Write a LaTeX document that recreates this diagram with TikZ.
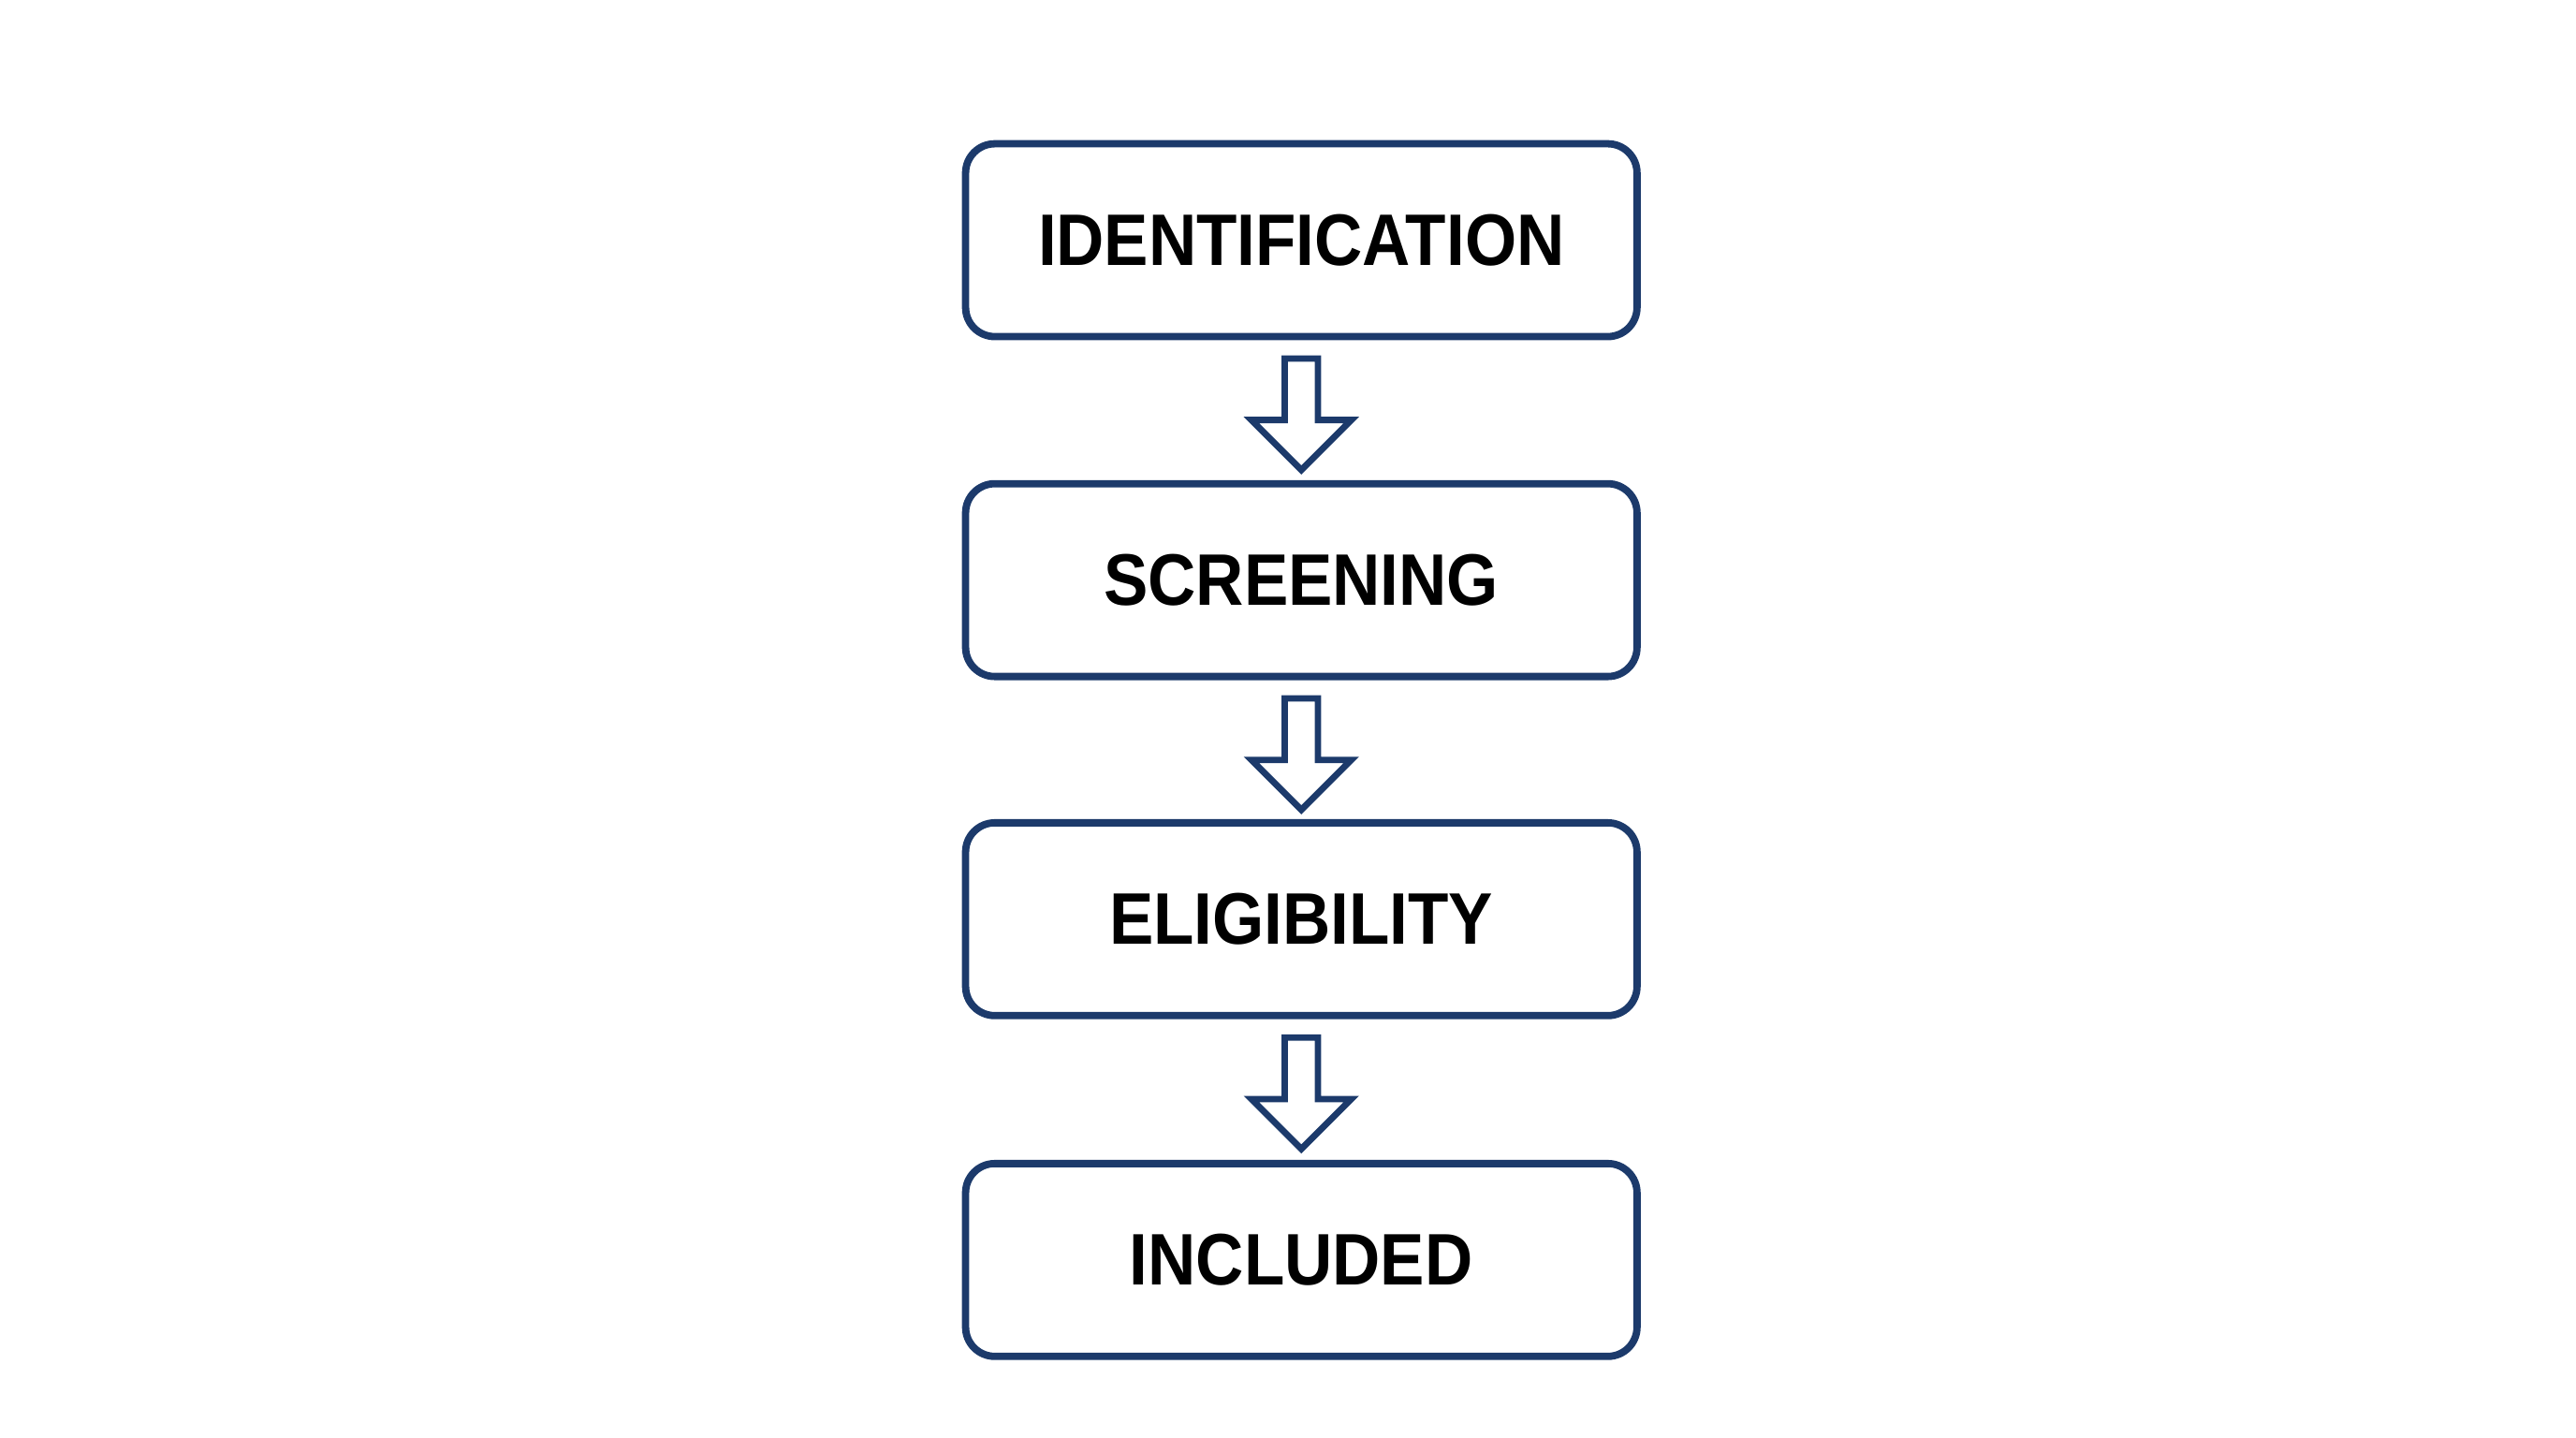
\documentclass[tikz,border=0pt]{standalone}
\usepackage{fontspec}
\setmainfont{Liberation Sans}
\usetikzlibrary{calc}
\definecolor{navy}{HTML}{1C3A6B}
\newcommand{\lbl}[1]{\scalebox{0.91}[1]{\fontsize{25}{30}\selectfont\bfseries #1}}
\begin{document}
\begin{tikzpicture}[x=0.02cm,y=-0.02cm,
  box/.style={draw=navy,line width=2.5pt,rounded corners=10pt,minimum width=404*0.02cm,minimum height=116*0.02cm,inner sep=0pt},
  flow/.style={draw=navy,line width=2.2pt,fill=white,line join=miter}]
\useasboundingbox (0,0) rectangle (1550,865);
\node[box] (b1) at (783,144.5) {\lbl{IDENTIFICATION}};
\node[box] (b2) at (783,349) {\lbl{SCREENING}};
\node[box] (b3) at (783,553) {\lbl{ELIGIBILITY}};
\node[box] (b4) at (783,758) {\lbl{INCLUDED}};
\foreach \a/\b in {b1/b2,b2/b3,b3/b4}{
  \coordinate (t) at ($(\a.south)+(0,11)$);
  \draw[flow] ($(t)+(-10,0)$) -- ($(t)+(10,0)$) -- ($(t)+(10,37)$) -- ($(t)+(30,37)$)
    -- ($(t)+(0,67)$) -- ($(t)+(-30,37)$) -- ($(t)+(-10,37)$) -- cycle;
}
\end{tikzpicture}
\end{document}
